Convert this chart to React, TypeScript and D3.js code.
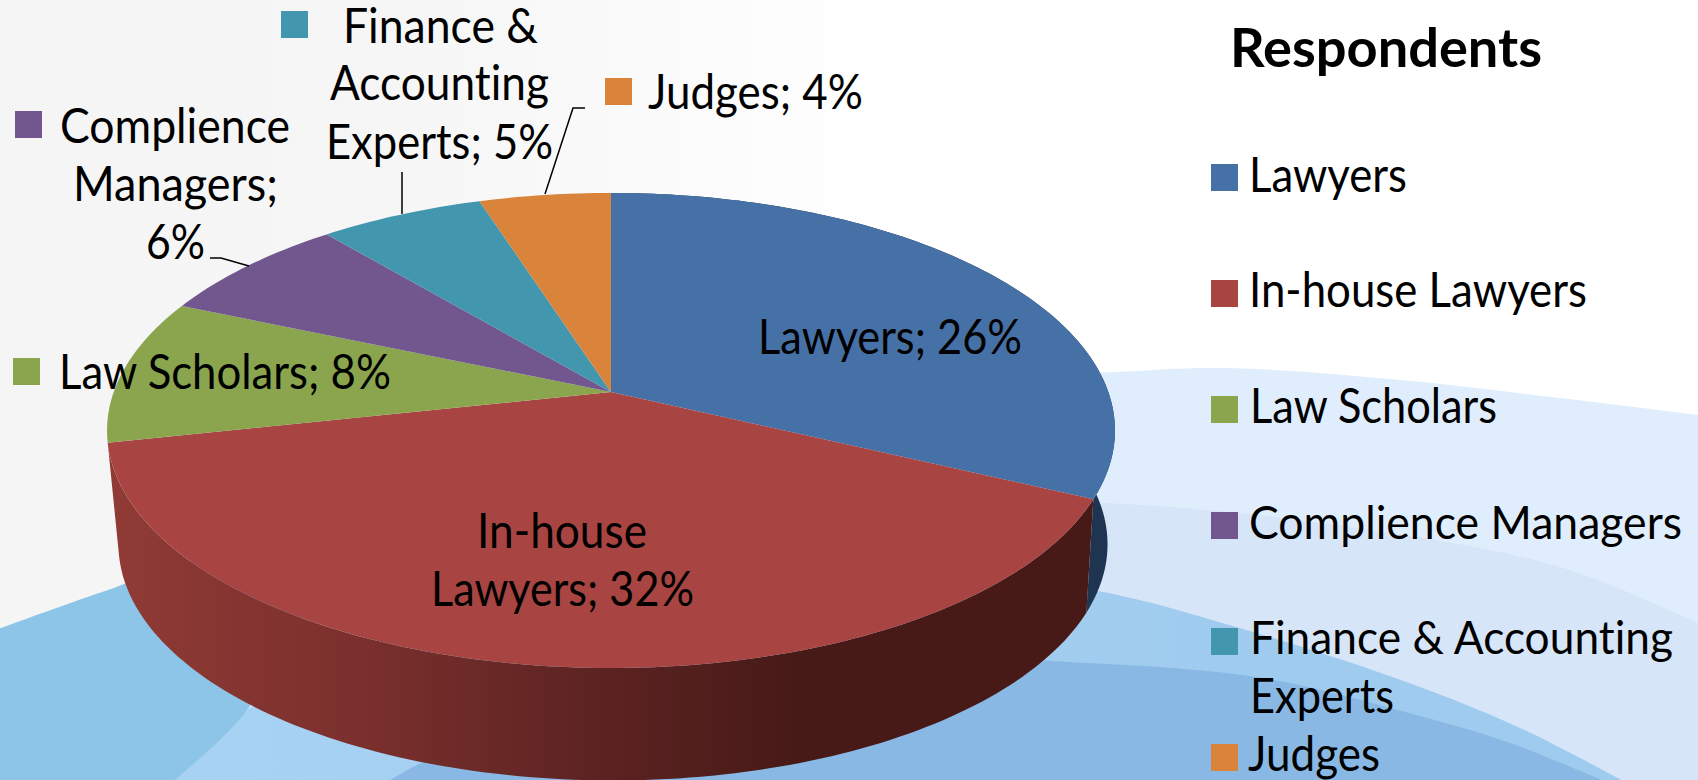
import React from "react";
import * as d3 from "d3";

// ---------- data ----------
const categories = ["Lawyers", "In-house Lawyers", "Law Scholars", "Complience Managers", "Finance & Accounting Experts", "Judges"];
const shares = [26, 32, 8, 6, 5, 4];
const sliceColors = ["#4671a6", "#a84441", "#8aa54e", "#72578f", "#4296ae", "#d9833b"];
const wallColors = ["#1f3450", "url(#redWall)"];

// ---------- layout ----------
const W = 1698, H = 780;
const FONT = "Lato, 'Open Sans', sans-serif";
const FS = 48;

// perspective of the disc: apex and the projective factor
const cx = 611, apexY = 392, k = -0.162;
const topA = 497.3, topB = 231.3, topD = 0, topShift = 0;
const botA = 488, botB = 230, botD = 114, botShift = 2;

type Line = [string, number, number, number, number?];
const labelLines: Line[] = [
  ["Finance &", 345, 43, 192], ["Accounting", 332, 100, 216], ["Experts; 5%", 328, 159, 224],
  ["Judges; 4%", 650, 109, 212],
  ["Complience", 62, 143, 227], ["Managers;", 75, 201, 202], ["6%", 148, 259, 56],
  ["Law Scholars; 8%", 61, 389, 329],
  ["Lawyers; 26%", 760, 354, 261],
  ["In-house", 479, 548, 167], ["Lawyers; 32%", 433, 606, 260],
];
const labelSwatches: [number, number, number][] = [[4, 281, 11], [5, 605, 78], [3, 15, 111], [2, 13, 358]];
const leaders: [number, number][][] = [
  [[545, 194], [573, 108], [585, 108]],
  [[402, 172], [402, 214]],
  [[210, 258], [221, 258], [249, 266]],
];
const legendLines: Line[] = [
  ["Lawyers", 1251, 192, 155], ["In-house Lawyers", 1251, 307, 335], ["Law Scholars", 1252, 423, 244],
  ["Complience Managers", 1251, 539, 430, 46], ["Finance & Accounting", 1252, 654, 420, 46], ["Experts", 1252, 713, 141],
  ["Judges", 1250, 771, 129],
];
const legendSwatchY = [164, 280, 396, 512, 628, 744];

// background sweeps, outlined left to right
const sweepA: [number, number][] = [[125, 800], [300, 588], [600, 440], [900, 385], [1115, 372], [1225, 368], [1400, 380], [1560, 398], [1698, 415]];
const sweepB: [number, number][] = [[60, 800], [400, 590], [800, 505], [1104, 503], [1350, 527], [1560, 567], [1698, 623]];
const sweepC: [number, number][] = [[150, 790], [247, 710], [450, 600], [800, 555], [1093, 590], [1236, 627], [1409, 683], [1520, 728], [1640, 790]];
const sweepD: [number, number][] = [[-10, 632], [108, 590], [200, 562], [300, 600], [247, 710], [150, 800]];
const sweepE: [number, number][] = [[375, 790], [413, 767], [600, 690], [850, 650], [1037, 660], [1256, 677], [1409, 713], [1510, 743], [1625, 790]];

const point = (a: number, A: number, B: number, D: number, shift: number): [number, number] => {
  const u = Math.sin(a), v = -Math.cos(a), w = 1 + k * v;
  return [cx + shift + (A * u) / w, apexY + D + (B * v) / w];
};
const topPt = (a: number) => point(a, topA, topB, topD, topShift);
const botPt = (a: number) => point(a, botA, botB, botD, botShift);
const steps = (a0: number, a1: number) => {
  const n = Math.max(2, Math.ceil((a1 - a0) / 0.02));
  return d3.range(n + 1).map((i) => a0 + ((a1 - a0) * i) / n);
};
const line = d3.line<[number, number]>();
const smooth = d3.line<[number, number]>().curve(d3.curveCatmullRom);
const closedSweep = (pts: [number, number][]) => smooth(pts) + `L${W + 10},${H + 10}L-10,${H + 10}Z`;

const arcs = d3.pie<number>().sort(null).value((d) => d)(shares);

const Txt = ({ l, weight, size }: { l: Line; weight?: number; size?: number }) => (
  <text
    x={l[1] - 2}
    y={l[2]}
    textLength={l[3] + 3}
    lengthAdjust="spacingAndGlyphs"
    fontSize={size ?? l[4] ?? FS}
    fontWeight={weight ?? 400}
    fontFamily={FONT}
    fill="#000"
    style={{ fontVariantLigatures: "none" }}
  >
    {l[0]}
  </text>
);

export default function App() {
  return (
    <svg width={W} height={H} viewBox={`0 0 ${W} ${H}`} style={{ position: "fixed", left: 0, top: 0, display: "block" }}>
      <defs>
        <linearGradient id="paper" x1="0" x2="1" y1="0" y2="0">
          <stop offset="0" stopColor="#f5f5f5" />
          <stop offset="0.24" stopColor="#f6f6f6" />
          <stop offset="0.52" stopColor="#ffffff" />
        </linearGradient>
        <linearGradient id="redWall" gradientUnits="userSpaceOnUse" x1={120} x2={800} y1={0} y2={0}>
          <stop offset="0" stopColor="#8f3a35" />
          <stop offset="0.35" stopColor="#7b302d" />
          <stop offset="0.7" stopColor="#5c2322" />
          <stop offset="1" stopColor="#471a17" />
        </linearGradient>
        <linearGradient id="sweepCFill" gradientUnits="userSpaceOnUse" x1={150} x2={1300} y1={0} y2={0}>
          <stop offset="0" stopColor="#a8d2f3" />
          <stop offset="1" stopColor="#9fcbee" />
        </linearGradient>
      </defs>

      <rect width={W} height={H} fill="url(#paper)" />
      <path d={closedSweep(sweepA)} fill="#e0edfc" />
      <path d={closedSweep(sweepB)} fill="#d6e6f8" />
      <path d={closedSweep(sweepC)} fill="url(#sweepCFill)" />
      <path d={closedSweep(sweepE)} fill="#88b8e3" />
      <path d={smooth(sweepD) + `L-10,800Z`} fill="#8dc5e9" />

      {wallColors.map((fill, i) => {
        const s = arcs[i];
        const as = steps(s.startAngle, s.endAngle);
        const pts = [...as.map(topPt), ...as.slice().reverse().map(botPt)];
        return <path key={`w${i}`} d={line(pts) + "Z"} fill={fill} />;
      })}
      {arcs.map((s, i) => {
        const pts: [number, number][] = [[cx, apexY], ...steps(s.startAngle, s.endAngle).map(topPt)];
        return <path key={`t${i}`} d={line(pts) + "Z"} fill={sliceColors[i]} />;
      })}

      {leaders.map((p, i) => (
        <path key={`l${i}`} d={line(p) ?? ""} fill="none" stroke="#000" strokeWidth={1.5} />
      ))}
      {labelSwatches.map(([c, x, y]) => (
        <rect key={`s${c}`} x={x} y={y} width={27} height={27} fill={sliceColors[c]} />
      ))}
      {labelLines.map((l) => (
        <Txt key={l[0]} l={l} />
      ))}

      <Txt l={["Respondents", 1232, 67, 309]} weight={700} size={53} />
      {categories.map((c, i) => (
        <rect key={c} x={1211} y={legendSwatchY[i]} width={27} height={27} fill={sliceColors[i]} />
      ))}
      {legendLines.map((l) => (
        <Txt key={`lg${l[0]}`} l={l} />
      ))}
    </svg>
  );
}
